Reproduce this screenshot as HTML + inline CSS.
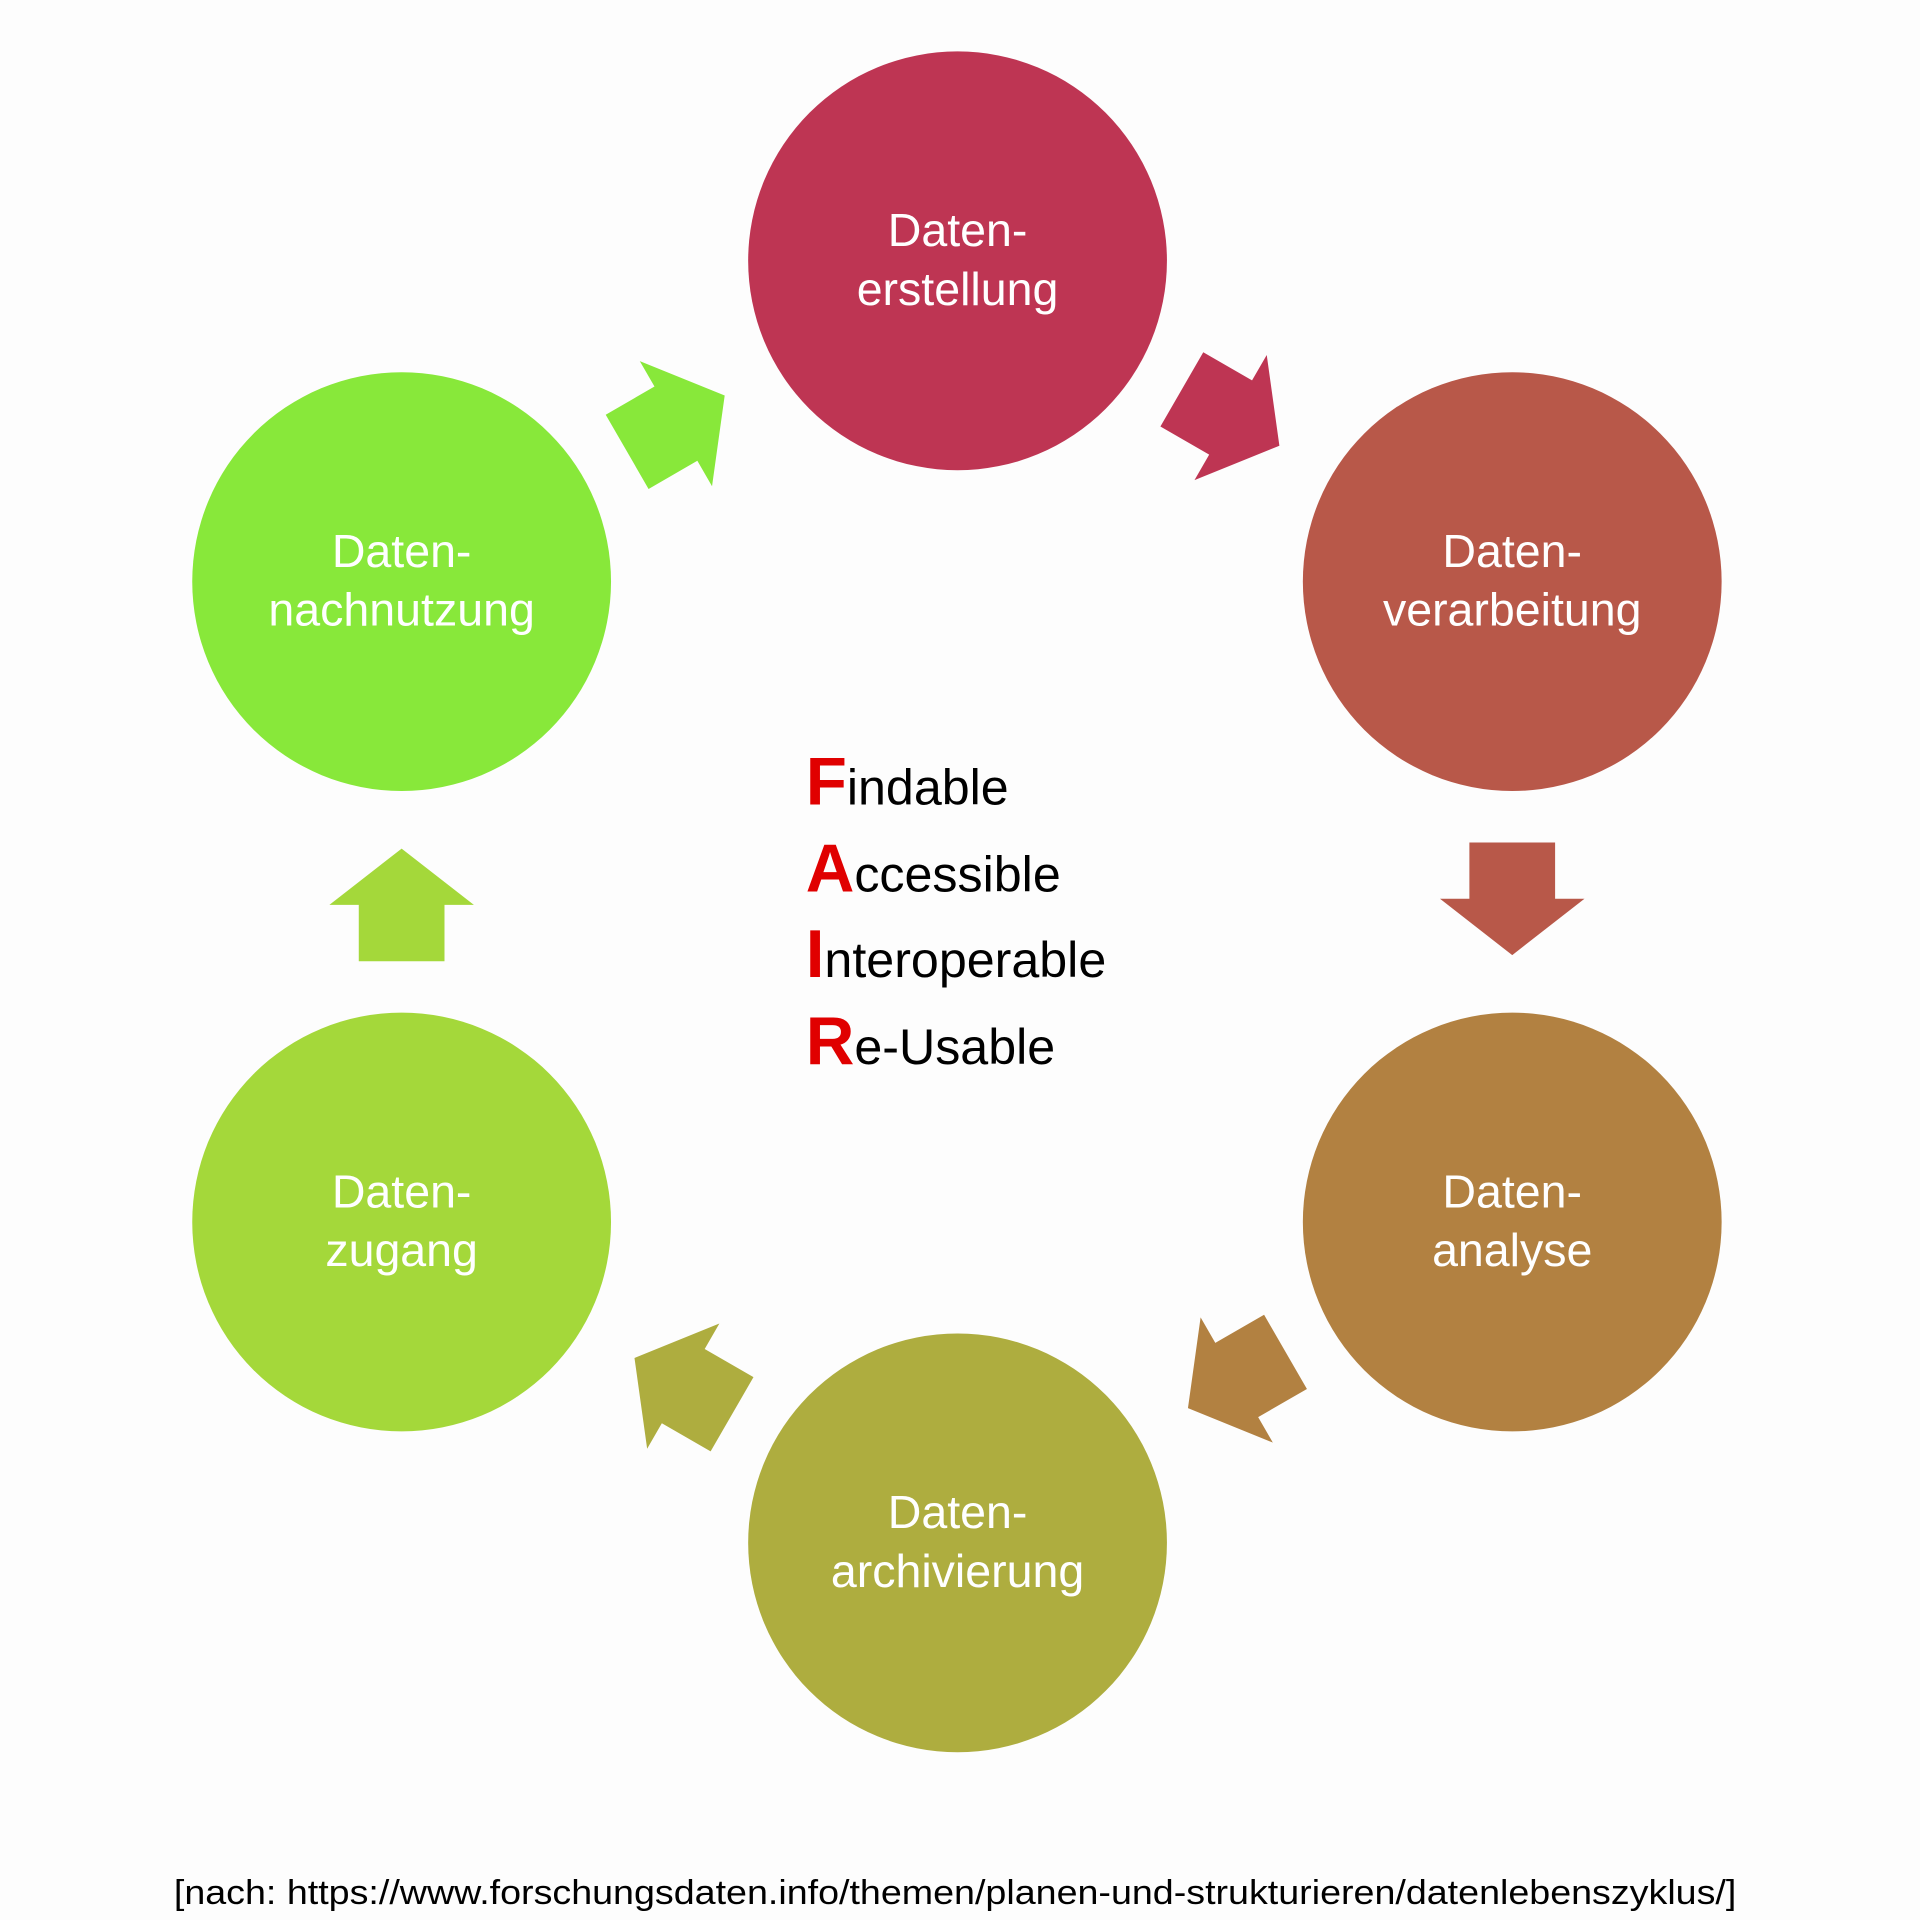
<!DOCTYPE html>
<html><head><meta charset="utf-8"><style>html,body{margin:0;padding:0;background:#fdfdfd}svg{display:block}</style></head>
<body>
<svg width="1920" height="1920" viewBox="0 0 1568 1568" xmlns="http://www.w3.org/2000/svg">
<defs>
<path id="ar" d="M-46,-35 L0,-35 L0,-59 L46,0 L0,59 L0,35 L-46,35 Z"/>
</defs>
<rect width="1568" height="1568" fill="#fdfdfd"/>
<g font-family="'Liberation Sans', sans-serif" font-size="38" fill="#fff" text-anchor="middle">
<circle cx="782" cy="213" r="171" fill="#BE3553"/>
<text x="782" y="201">Daten-</text><text x="782" y="249">erstellung</text>
<circle cx="1235" cy="475" r="171" fill="#B85849"/>
<text x="1235" y="463">Daten-</text><text x="1235" y="511">verarbeitung</text>
<circle cx="1235" cy="998" r="171" fill="#B28141"/>
<text x="1235" y="986">Daten-</text><text x="1235" y="1034">analyse</text>
<circle cx="782" cy="1260" r="171" fill="#AEAD3F"/>
<text x="782" y="1248">Daten-</text><text x="782" y="1296">archivierung</text>
<circle cx="328" cy="998" r="171" fill="#A4D83A"/>
<text x="328" y="986">Daten-</text><text x="328" y="1034">zugang</text>
<circle cx="328" cy="475" r="171" fill="#88E83A"/>
<text x="328" y="463">Daten-</text><text x="328" y="511">nachnutzung</text>
</g>
<use href="#ar" transform="translate(1005,341) rotate(30)" fill="#BE3553"/>
<use href="#ar" transform="translate(1235,734) rotate(90)" fill="#B85849"/>
<use href="#ar" transform="translate(1010,1127) rotate(150)" fill="#B28141"/>
<use href="#ar" transform="translate(558,1132) rotate(210)" fill="#AEAD3F"/>
<use href="#ar" transform="translate(328,739) rotate(270)" fill="#A4D83A"/>
<use href="#ar" transform="translate(552,346) rotate(330)" fill="#88E83A"/>
<g font-family="'Liberation Sans', Arial, sans-serif" font-size="41" fill="#000">
<text x="658" y="657"><tspan fill="#e00000" font-weight="bold" font-size="55">F</tspan>indable</text>
<text x="658" y="728"><tspan fill="#e00000" font-weight="bold" font-size="55">A</tspan>ccessible</text>
<text x="658" y="798"><tspan fill="#e00000" font-weight="bold" font-size="55">I</tspan>nteroperable</text>
<text x="658" y="869"><tspan fill="#e00000" font-weight="bold" font-size="55">R</tspan>e-Usable</text>
</g>
<text x="142" y="1555" font-family="'Liberation Sans', Arial, sans-serif" font-size="28" fill="#000" textLength="1276" lengthAdjust="spacingAndGlyphs">[nach: https://www.forschungsdaten.info/themen/planen-und-strukturieren/datenlebenszyklus/]</text>
</svg>
</body></html>
